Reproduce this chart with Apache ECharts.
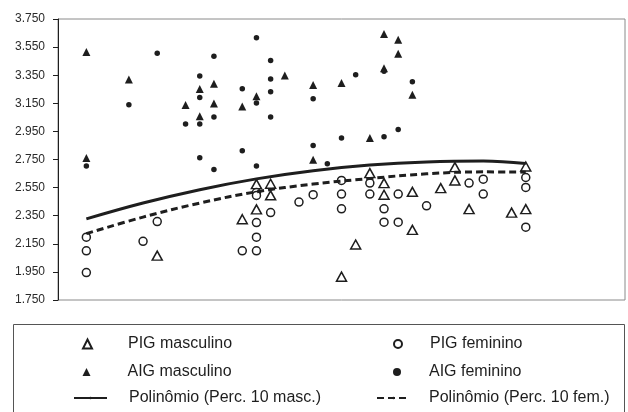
<!DOCTYPE html>
<html>
<head>
<meta charset="utf-8">
<script src="https://cdn.jsdelivr.net/npm/echarts@6/dist/echarts.min.js"></script>
<style>
html,body{margin:0;padding:0;background:#fff;}
#c{width:628px;height:412px;}
</style>
</head>
<body>
<div id="c"></div>
<script>
// Data (x = column index along the horizontal axis, y = weight in grams)
const pigMascX = [5, 11, 12, 12, 13, 13, 18, 19, 20, 21, 21, 23, 23, 25, 26, 26, 27, 30, 31, 31];
const pigMascY = [2066, 2325, 2575, 2395, 2577, 2495, 1916, 2145, 2653, 2582, 2499, 2520, 2249, 2546, 2696, 2601, 2397, 2372, 2700, 2397];

const pigFemX = [0, 0, 0, 4, 5, 11, 12, 12, 12, 12, 12, 13, 15, 16, 18, 18, 18, 20, 20, 21, 21, 22, 22, 24, 27, 28, 28, 31, 31, 31];
const pigFemY = [2197, 2100, 1945, 2168, 2308, 2100, 2515, 2494, 2301, 2197, 2100, 2372, 2447, 2500, 2601, 2504, 2399, 2582, 2504, 2399, 2304, 2504, 2304, 2420, 2582, 2610, 2504, 2622, 2551, 2268];

const aigMascX = [0, 0, 3, 7, 8, 8, 9, 9, 11, 12, 14, 16, 16, 18, 20, 21, 21, 22, 22, 23];
const aigMascY = [3516, 2760, 3319, 3138, 3252, 3057, 3290, 3148, 3128, 3200, 3347, 3280, 2748, 3295, 2903, 3644, 3400, 3602, 3502, 3210];

const aigFemX = [0, 3, 5, 7, 8, 8, 8, 8, 9, 9, 9, 11, 11, 12, 12, 12, 13, 13, 13, 13, 16, 16, 17, 18, 19, 21, 21, 22, 23];
const aigFemY = [2703, 3140, 3506, 3003, 3345, 3192, 3003, 2762, 3485, 3053, 2679, 3254, 2812, 3616, 3152, 2703, 3454, 3323, 3233, 3053, 3183, 2850, 2720, 2903, 3354, 3378, 2912, 2964, 3304];

const polyX = [0, 4, 8, 12, 16, 20, 24, 28, 31];
const polyMasc = [2327, 2440, 2535, 2612, 2670, 2710, 2733, 2740, 2722];
const polyFem = [2222, 2340, 2440, 2520, 2575, 2615, 2648, 2662, 2660];

const yTicks = { min: 1750, max: 3750, step: 200 };

const names = {
  pigM: 'PIG masculino', pigF: 'PIG feminino',
  aigM: 'AIG masculino', aigF: 'AIG feminino',
  polM: 'Polinômio (Perc. 10 masc.)', polF: 'Polinômio (Perc. 10 fem.)'
};

const zip = (xs, ys) => xs.map((x, i) => [x, ys[i]]);
const INK = '#1e1e1e';
const FONT = "'Liberation Sans', Arial, Helvetica, sans-serif";

const chart = echarts.init(document.getElementById('c'), null, { renderer: 'canvas' });

function leg(name, left, top, w, h, pad) {
  return {
    data: [name], left: left, top: top, orient: 'horizontal',
    itemWidth: w, itemHeight: h, padding: 0, selectedMode: false,
    textStyle: { fontFamily: FONT, fontSize: 16, color: INK, padding: [0, 0, 0, pad], lineHeight: 18 }
  };
}

chart.setOption({
  animation: false,
  backgroundColor: '#fff',
  grid: { left: 58, right: 3, top: 19, bottom: 112, show: true, borderColor: '#8a8a8a', borderWidth: 1 },
  xAxis: {
    type: 'value', min: -2, max: 38,
    axisLine: { show: false }, axisTick: { show: false }, axisLabel: { show: false }, splitLine: { show: false }
  },
  yAxis: {
    type: 'value', min: yTicks.min, max: yTicks.max, interval: yTicks.step,
    axisLine: { show: true, onZero: false, lineStyle: { color: INK, width: 1 } },
    axisTick: { show: true, length: 5, lineStyle: { color: INK } },
    splitLine: { show: false },
    axisLabel: {
      margin: 13, color: '#2a2a2a', fontFamily: FONT, fontSize: 12,
      formatter: v => (v / 1000).toFixed(3)
    }
  },
  legend: [
    leg(names.pigM, 82, 335, 9, 9, 31),
    leg(names.aigM, 82.5, 363, 8, 8, 32),
    leg(names.polM, 73, 389, 33, 3, 17),
    leg(names.pigF, 393, 335, 8, 8, 23),
    leg(names.aigF, 393, 363, 8, 8, 23),
    leg(names.polF, 376, 389, 33, 3, 14)
  ],
  graphic: [{
    type: 'rect', shape: { x: 13.5, y: 324.5, width: 611, height: 100 },
    style: { fill: 'none', stroke: '#555', lineWidth: 1 }, silent: true
  }],
  series: [
    {
      name: names.pigM, type: 'scatter', data: zip(pigMascX, pigMascY),
      symbol: 'triangle', symbolSize: [10, 9],
      itemStyle: { color: '#fff', borderColor: INK, borderWidth: 1.5, opacity: 1 }
    },
    {
      name: names.pigF, type: 'scatter', data: zip(pigFemX, pigFemY),
      symbol: 'circle', symbolSize: 8,
      itemStyle: { color: '#fff', borderColor: INK, borderWidth: 1.5, opacity: 1 }
    },
    {
      name: names.aigM, type: 'scatter', data: zip(aigMascX, aigMascY),
      symbol: 'triangle', symbolSize: 8,
      itemStyle: { color: INK, opacity: 1 }
    },
    {
      name: names.aigF, type: 'scatter', data: zip(aigFemX, aigFemY),
      symbol: 'circle', symbolSize: 5.5,
      itemStyle: { color: INK, opacity: 1 }
    },
    {
      name: names.polM, type: 'line', data: zip(polyX, polyMasc),
      smooth: 0.4, symbol: 'none', showSymbol: false,
      lineStyle: { color: INK, width: 3, type: 'solid' }, itemStyle: { color: INK }
    },
    {
      name: names.polF, type: 'line', data: zip(polyX, polyFem),
      smooth: 0.4, symbol: 'none', showSymbol: false,
      lineStyle: { color: INK, width: 3, type: [7, 4] }, itemStyle: { color: INK }
    }
  ]
});
</script>
</body>
</html>
